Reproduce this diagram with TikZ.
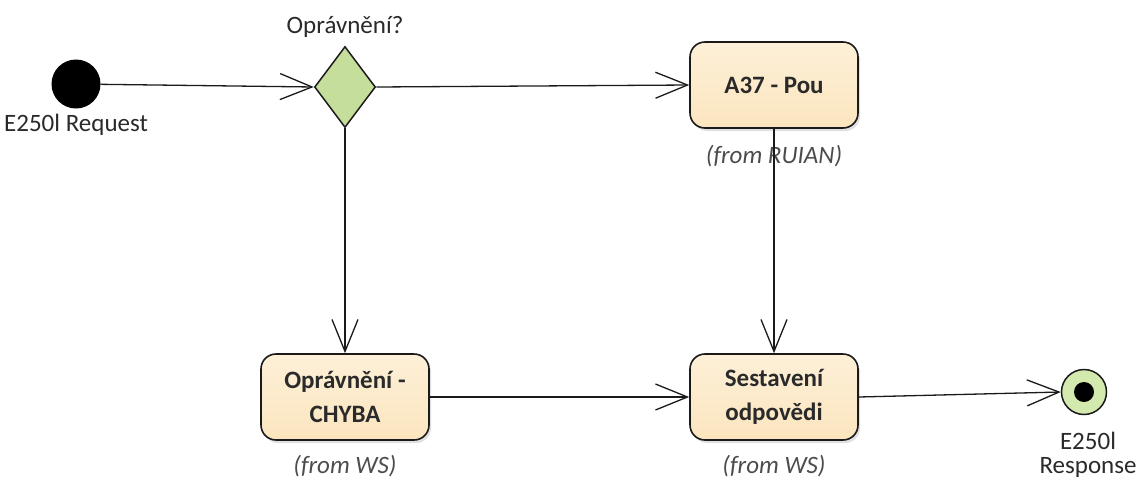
\documentclass[tikz,border=0pt]{standalone}
\usepackage{fontspec}
\setmainfont{Carlito}
\usetikzlibrary{shapes.geometric,arrows.meta,shadows}
\definecolor{boxfill}{HTML}{FBE5BE}
\definecolor{boxtop}{HTML}{FDF0D8}
\definecolor{decfill}{HTML}{C6DE9C}
\definecolor{finfill}{HTML}{D4E9AE}
\definecolor{edge}{HTML}{1A1A1A}
\definecolor{txt}{HTML}{2A2A2A}
\begin{document}
\begin{tikzpicture}[x=1pt,y=-1pt,
  every node/.style={font=\fontsize{25}{30}\selectfont,text=txt},
  act/.style={draw=edge,line width=1.6pt,rounded corners=15pt,minimum width=168pt,minimum height=86pt,
    top color=boxtop,bottom color=boxfill,align=center,font=\fontsize{25}{34}\selectfont\bfseries,
    drop shadow={shadow xshift=2pt,shadow yshift=-3pt,fill=black,opacity=0.12}},
  lbl/.style={inner sep=0pt},
  from/.style={inner sep=0pt,font=\fontsize{25}{30}\selectfont\itshape,text=black!70},
  flow/.style={draw=edge,line width=1.3pt,-{Straight Barb[length=32pt,width=26pt,line width=1.3pt]}}]
\useasboundingbox (0,0) rectangle (1140,480);
\node[circle,fill=black,minimum size=49pt,inner sep=0pt] (init) at (76,84) {};
\node[lbl,anchor=north west] (initl) at (4,114) {E250l Request};
\node[diamond,draw=edge,line width=1.5pt,fill=decfill,minimum width=61pt,minimum height=81pt,inner sep=0pt] (dec) at (345,87) {};
\node[lbl] (decl) at (345,27) {Oprávnění?};
\node[act] (a37) at (774,85) {A37 - Pou};
\node[from] (a37f) at (774,156) {(from RUIAN)};
\node[act] (chyba) at (345,397) {Oprávnění -\\CHYBA};
\node[from] (chybaf) at (345,466) {(from WS)};
\node[act] (sest) at (774,397) {Sestavení\\odpovědi};
\node[from] (sestf) at (774,466) {(from WS)};
\node[circle,draw=edge,line width=1.5pt,fill=finfill,minimum size=45pt,inner sep=0pt] (fin) at (1084,392) {};
\node[circle,fill=black,minimum size=20pt,inner sep=0pt] (findot) at (fin) {};
\node[lbl,align=center,font=\fontsize{25}{24}\selectfont] (finl) at (1088,455) {E250l\\Response};
\draw[flow] (init) -- (dec.west);
\draw[flow] (dec.east) -- (a37.west);
\draw[flow] (dec.south) -- (chyba.north);
\draw[flow] (a37.south) -- (sest.north);
\draw[flow] (chyba.east) -- (sest.west);
\draw[flow] (sest.east) -- (fin.west);
\end{tikzpicture}
\end{document}
